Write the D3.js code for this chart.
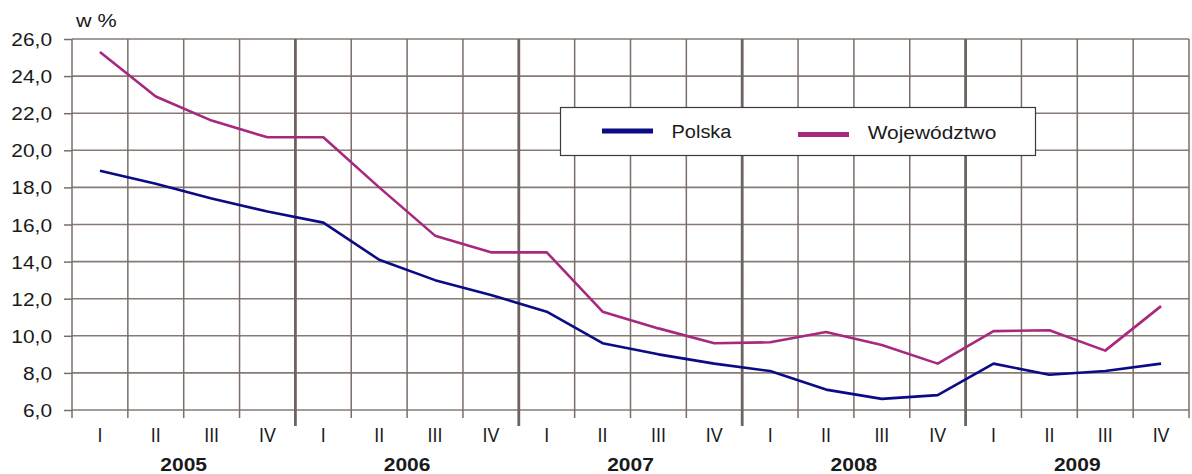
<!DOCTYPE html>
<html>
<head>
<meta charset="utf-8">
<script src="https://cdn.jsdelivr.net/npm/d3@7"></script>
<style>
  html, body { margin: 0; padding: 0; background: #fff; }
  svg { display: block; font-family: "Liberation Sans", Arial, sans-serif; }
</style>
</head>
<body>
<svg id="chart" width="1192" height="474"></svg>
<script>
const years = ["2005", "2006", "2007", "2008", "2009"];
const quarters = ["I", "II", "III", "IV"];
const polska = [18.9, 18.2, 17.4, 16.7, 16.1, 14.1, 13.0, 12.2, 11.3, 9.6, 9.0, 8.5, 8.1, 7.1, 6.6, 6.8, 8.5, 7.9, 8.1, 8.5];
const wojewodztwo = [25.3, 22.9, 21.6, 20.7, 20.7, 18.0, 15.4, 14.5, 14.5, 11.3, 10.4, 9.6, 9.65, 10.2, 9.5, 8.5, 10.25, 10.3, 9.2, 11.6];
const yTicks = [6, 8, 10, 12, 14, 16, 18, 20, 22, 24, 26];
const seriesNames = ["Polska", "Województwo"];
const seriesColors = ["#0b0b86", "#a6287f"];

(function () {
const svg = d3.select("#chart");
const pL = 72, pR = 1189, pT = 39, pB = 410;
const ink = "#1a1a1a";

const periods = [];
years.forEach(yr => quarters.forEach(q => periods.push(yr + "-" + q)));

const x = d3.scaleBand().domain(periods).range([pL, pR]).padding(0);
const y = d3.scaleLinear().domain([6, 26]).range([pB, pT]);
const bw = x.bandwidth();

// horizontal gridlines
svg.append("g").selectAll("line").data(yTicks).join("line")
  .attr("x1", pL).attr("x2", pR)
  .attr("y1", d => y(d)).attr("y2", d => y(d))
  .attr("stroke", "#877a75").attr("stroke-width", 1.6);

// vertical gridlines (quarter boundaries)
const n = periods.length;
const isSep = i => i % 4 === 0 && i > 0 && i < n;
const bx = i => i === n ? pR : x(periods[i]);
const bounds = d3.range(1, n + 1);
svg.append("g").selectAll("line").data(bounds).join("line")
  .attr("x1", bx).attr("x2", bx)
  .attr("y1", pT)
  .attr("y2", i => isSep(i) ? 426 : 418)
  .attr("stroke", i => isSep(i) ? "#6f635f" : "#7b6d68")
  .attr("stroke-width", i => isSep(i) ? 2.8 : 1.5);

// y axis
const yAxis = d3.axisLeft(y).tickValues(yTicks).tickSize(8).tickPadding(0)
  .tickFormat(d => d3.format(".1f")(d).replace(".", ","));
const ya = svg.append("g").attr("transform", `translate(${pL},0)`).call(yAxis);
ya.select(".domain").remove();
ya.selectAll(".tick line").attr("stroke", "#7b6d68").attr("stroke-width", 1.5);
ya.selectAll(".tick text")
  .attr("x", null).attr("dy", null)
  .attr("font-size", 17.7).attr("fill", ink)
  .attr("font-family", "'Liberation Sans', Arial, sans-serif")
  .attr("transform", "translate(-20,6.5) scale(1.18,1)");
svg.append("line").attr("x1", pL).attr("x2", pL).attr("y1", pT).attr("y2", 418)
  .attr("stroke", "#7b6d68").attr("stroke-width", 1.5);

// unit label
svg.append("text").attr("transform", "translate(76,27) scale(1.2,1)")
  .attr("font-size", 18).attr("fill", ink).text("w %");

// x labels (quarters)
svg.append("g").selectAll("text").data(periods).join("text")
  .attr("transform", d => `translate(${x(d) + bw / 2},441.7) scale(0.85,1)`)
  .attr("text-anchor", "middle").attr("font-size", 21).attr("fill", ink)
  .text(d => d.split("-")[1]);

// years
svg.append("g").selectAll("text").data(years).join("text")
  .attr("transform", d => `translate(${x(d + "-II") + bw},470.5) scale(1.13,1)`)
  .attr("text-anchor", "middle").attr("font-size", 18.6).attr("font-weight", "bold").attr("fill", ink)
  .text(d => d);

// lines
const line = d3.line().x((d, i) => x(periods[i]) + bw / 2).y(d => y(d));
[polska, wojewodztwo].forEach((s, k) => {
  svg.append("path").datum(s).attr("d", line)
    .attr("fill", "none").attr("stroke", seriesColors[k]).attr("stroke-width", 2.6)
    .attr("stroke-linejoin", "round");
});

// legend
const lg = svg.append("g");
lg.append("rect").attr("x", 560.5).attr("y", 107.5).attr("width", 475).attr("height", 48)
  .attr("fill", "#fff").attr("stroke", "#3a3a3a").attr("stroke-width", 1.2);
const legendItems = [
  { lx: 602, ly: 131, tx: 671.5, ty: 137.5, sx: 1.075 },
  { lx: 798, ly: 134.5, tx: 867.7, ty: 139.3, sx: 1.125 }
];
legendItems.forEach((it, k) => {
  lg.append("line").attr("x1", it.lx).attr("x2", it.lx + 51).attr("y1", it.ly).attr("y2", it.ly)
    .attr("stroke", seriesColors[k]).attr("stroke-width", 5);
  lg.append("text").attr("transform", `translate(${it.tx},${it.ty}) scale(${it.sx},1)`)
    .attr("font-size", 18.6).attr("fill", ink)
    .text(seriesNames[k]);
});
})();
</script>
</body>
</html>
